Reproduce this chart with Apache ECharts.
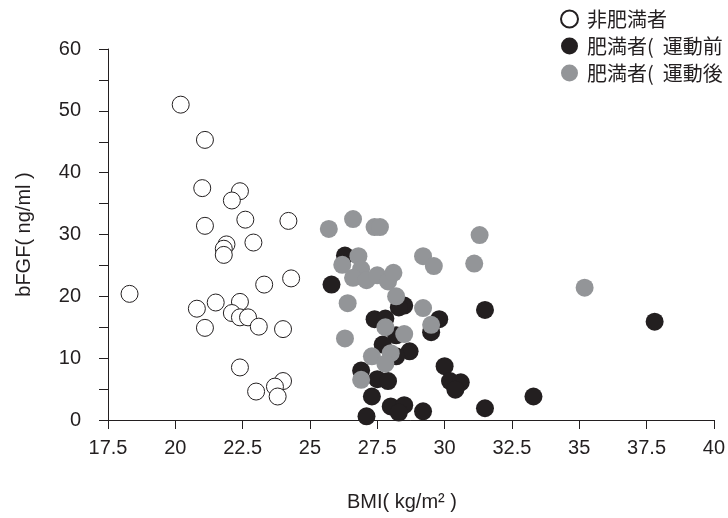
<!DOCTYPE html>
<html lang="ja">
<head>
  <meta charset="UTF-8">
  <title>BMI と bFGF</title>
  <script src="https://cdn.jsdelivr.net/npm/echarts/dist/echarts.min.js"></script>
  <style>
    html, body { margin: 0; padding: 0; background: #fff; }
    #chart { width: 728px; height: 518px; }
  </style>
</head>
<body>
<div id="chart"></div>
<script>
  // 非肥満者 [BMI, bFGF]
  var nonObese = [
    [20.2, 51.0], [21.1, 45.3], [21.0, 37.5], [22.4, 37.0], [22.1, 35.5],
    [22.6, 32.4], [24.2, 32.2], [21.1, 31.4], [21.9, 28.4], [21.8, 27.7],
    [21.8, 26.7], [22.9, 28.7], [24.3, 22.9], [23.3, 21.9], [22.4, 19.1],
    [21.5, 19.0], [20.8, 18.0], [22.1, 17.3], [22.4, 16.6], [22.7, 16.6],
    [23.1, 15.1], [21.1, 14.9], [24.0, 14.7], [22.4, 8.5], [23.0, 4.6],
    [24.0, 6.3], [23.7, 5.4], [23.8, 3.8], [18.3, 20.4]
  ];
  // 肥満者 運動前
  var obeseBefore = [
    [26.3, 26.6], [25.8, 21.9], [28.5, 18.5], [28.3, 18.2], [31.5, 17.8],
    [27.4, 16.3], [27.8, 16.4], [29.8, 16.3], [29.5, 14.2], [28.2, 13.7],
    [27.7, 12.2], [28.7, 11.1], [28.2, 10.3], [30.0, 8.7], [26.9, 8.0],
    [27.5, 6.6], [27.9, 6.3], [30.2, 6.3], [30.6, 6.1], [30.4, 4.9],
    [27.3, 3.8], [28.0, 2.2], [28.5, 2.4], [28.3, 1.2], [29.2, 1.4],
    [27.1, 0.6], [31.5, 1.9], [33.3, 3.8], [37.8, 15.9]
  ];
  // 肥満者 運動後
  var obeseAfter = [
    [25.7, 30.9], [26.6, 32.5], [27.4, 31.2], [27.6, 31.2], [31.3, 29.9],
    [26.8, 26.5], [26.2, 25.1], [29.2, 26.5], [29.6, 24.9], [31.1, 25.3],
    [26.9, 24.4], [26.6, 23.0], [27.1, 22.6], [27.5, 23.4], [27.9, 22.4],
    [28.1, 23.8], [28.2, 20.0], [26.4, 18.9], [29.2, 18.1], [29.5, 15.4],
    [27.8, 15.0], [28.5, 13.9], [26.3, 13.2], [28.0, 10.8], [27.3, 10.3],
    [27.8, 9.1], [26.9, 6.5], [35.2, 21.4]
  ];
  var seriesNames = ['非肥満者', '肥満者(  運動前', '肥満者(  運動後'];

  var dark = '#231f20';
  var grey = '#939598';
  var chart = echarts.init(document.getElementById('chart'));

  var option = {
    animation: false,
    textStyle: { fontFamily: 'Liberation Sans, Arial, sans-serif' },
    legend: {
      orient: 'vertical',
      left: 560,
      top: 9,
      itemWidth: 25,
      itemHeight: 17,
      itemGap: 7,
      padding: 0,
      textStyle: { fontSize: 20, lineHeight: 20, color: dark, fontFamily: 'Noto Sans CJK JP' },
      data: [
        { name: seriesNames[0], icon: 'circle' },
        { name: seriesNames[1], icon: 'circle' },
        { name: seriesNames[2], icon: 'circle' }
      ]
    },
    grid: { left: 108, right: 12, top: 49, bottom: 98 },
    xAxis: {
      type: 'value',
      min: 17.5,
      max: 40,
      interval: 2.5,
      name: 'BMI( kg/m² )',
      nameLocation: 'middle',
      nameGap: 72,
      nameTextStyle: { fontSize: 20, color: dark, padding: [0, 18, 0, 0] },
      splitLine: { show: false },
      axisLine: { lineStyle: { color: dark, width: 1 } },
      axisTick: { length: 9, lineStyle: { color: dark } },
      axisLabel: { fontSize: 20, color: dark, margin: 18 }
    },
    yAxis: {
      type: 'value',
      min: 0,
      max: 60,
      interval: 5,
      name: 'bFGF( ng/ml )',
      nameLocation: 'middle',
      nameGap: 74,
      nameTextStyle: { fontSize: 20, color: dark },
      splitLine: { show: false },
      axisLine: { show: true, lineStyle: { color: dark, width: 1 } },
      axisTick: { show: true, length: 9, lineStyle: { color: dark } },
      axisLabel: {
        fontSize: 20, color: dark, margin: 27,
        formatter: function (v) { return v % 10 === 0 ? String(v) : ''; }
      }
    },
    series: [
      {
        name: seriesNames[0],
        type: 'scatter',
        symbolSize: 17,
        data: nonObese,
        itemStyle: { color: '#fff', borderColor: dark, borderWidth: 1, opacity: 1 }
      },
      {
        name: seriesNames[1],
        type: 'scatter',
        symbolSize: 18,
        data: obeseBefore,
        itemStyle: { color: dark, opacity: 1 }
      },
      {
        name: seriesNames[2],
        type: 'scatter',
        symbolSize: 18,
        data: obeseAfter,
        itemStyle: { color: grey, opacity: 1 }
      }
    ]
  };

  chart.setOption(option);
</script>
</body>
</html>
